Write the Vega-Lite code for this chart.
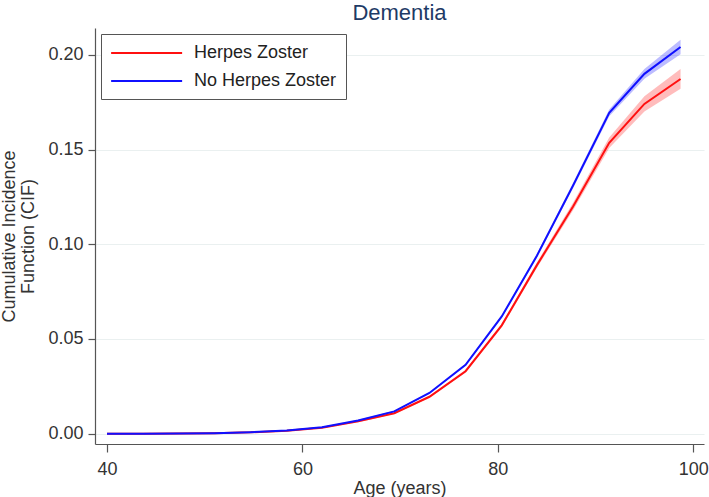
{
  "$schema": "https://vega.github.io/schema/vega-lite/v6.json",
  "autosize": {"type": "none"},
  "width": 609,
  "height": 416,
  "padding": {"left": 95, "top": 28, "right": 5, "bottom": 53},
  "background": "white",
  "title": {
    "text": "Dementia",
    "fontSize": 22,
    "font": "Liberation Sans",
    "fontWeight": "normal",
    "color": "#1e3a66",
    "anchor": "middle",
    "offset": 3
  },
  "config": {
    "view": {"stroke": null},
    "font": "Liberation Sans",
    "axis": {
      "labelFont": "Liberation Sans",
      "titleFont": "Liberation Sans",
      "labelFontSize": 18,
      "titleFontSize": 18,
      "titleFontWeight": "normal",
      "labelColor": "#333333",
      "titleColor": "#333333",
      "domainColor": "#555555",
      "tickColor": "#555555",
      "domainWidth": 1.2,
      "tickWidth": 1.2,
      "gridColor": "#eaf0f0",
      "gridWidth": 1.2
    }
  },
  "data": {
    "values": [
      {"age": 40.0, "group": "Herpes Zoster", "cif": 0.0, "lo": 0.0, "hi": 0.0},
      {"age": 43.7, "group": "Herpes Zoster", "cif": 0.00003, "lo": 0.0, "hi": 0.0001},
      {"age": 47.4, "group": "Herpes Zoster", "cif": 0.0001, "lo": 0.0, "hi": 0.0002},
      {"age": 51.0, "group": "Herpes Zoster", "cif": 0.0003, "lo": 0.0001, "hi": 0.0005},
      {"age": 54.7, "group": "Herpes Zoster", "cif": 0.0007, "lo": 0.0005, "hi": 0.0009},
      {"age": 58.4, "group": "Herpes Zoster", "cif": 0.0016, "lo": 0.0013, "hi": 0.0019},
      {"age": 62.0, "group": "Herpes Zoster", "cif": 0.0032, "lo": 0.0029, "hi": 0.0035},
      {"age": 65.7, "group": "Herpes Zoster", "cif": 0.0065, "lo": 0.0061, "hi": 0.0069},
      {"age": 69.4, "group": "Herpes Zoster", "cif": 0.0108, "lo": 0.0104, "hi": 0.0112},
      {"age": 73.0, "group": "Herpes Zoster", "cif": 0.0195, "lo": 0.019, "hi": 0.02},
      {"age": 76.7, "group": "Herpes Zoster", "cif": 0.033, "lo": 0.0323, "hi": 0.0337},
      {"age": 80.4, "group": "Herpes Zoster", "cif": 0.0572, "lo": 0.0562, "hi": 0.0582},
      {"age": 84.0, "group": "Herpes Zoster", "cif": 0.089, "lo": 0.0876, "hi": 0.0904},
      {"age": 87.7, "group": "Herpes Zoster", "cif": 0.12, "lo": 0.118, "hi": 0.122},
      {"age": 91.4, "group": "Herpes Zoster", "cif": 0.1536, "lo": 0.1508, "hi": 0.1564},
      {"age": 95.0, "group": "Herpes Zoster", "cif": 0.1741, "lo": 0.1701, "hi": 0.1781},
      {"age": 98.7, "group": "Herpes Zoster", "cif": 0.1873, "lo": 0.1821, "hi": 0.1925},
      {"age": 40.0, "group": "No Herpes Zoster", "cif": 0.0, "lo": 0.0, "hi": 0.0},
      {"age": 43.7, "group": "No Herpes Zoster", "cif": 0.00003, "lo": 0.0, "hi": 0.0001},
      {"age": 47.4, "group": "No Herpes Zoster", "cif": 0.0001, "lo": 0.0, "hi": 0.0002},
      {"age": 51.0, "group": "No Herpes Zoster", "cif": 0.0003, "lo": 0.0002, "hi": 0.0004},
      {"age": 54.7, "group": "No Herpes Zoster", "cif": 0.0008, "lo": 0.0007, "hi": 0.0009},
      {"age": 58.4, "group": "No Herpes Zoster", "cif": 0.0017, "lo": 0.0015, "hi": 0.0019},
      {"age": 62.0, "group": "No Herpes Zoster", "cif": 0.0034, "lo": 0.0032, "hi": 0.0036},
      {"age": 65.7, "group": "No Herpes Zoster", "cif": 0.007, "lo": 0.0067, "hi": 0.0073},
      {"age": 69.4, "group": "No Herpes Zoster", "cif": 0.0118, "lo": 0.0115, "hi": 0.0121},
      {"age": 73.0, "group": "No Herpes Zoster", "cif": 0.0215, "lo": 0.0211, "hi": 0.0219},
      {"age": 76.7, "group": "No Herpes Zoster", "cif": 0.0364, "lo": 0.0359, "hi": 0.0369},
      {"age": 80.4, "group": "No Herpes Zoster", "cif": 0.0619, "lo": 0.0612, "hi": 0.0626},
      {"age": 84.0, "group": "No Herpes Zoster", "cif": 0.094, "lo": 0.093, "hi": 0.095},
      {"age": 87.7, "group": "No Herpes Zoster", "cif": 0.131, "lo": 0.1297, "hi": 0.1323},
      {"age": 91.4, "group": "No Herpes Zoster", "cif": 0.1694, "lo": 0.1676, "hi": 0.1712},
      {"age": 95.0, "group": "No Herpes Zoster", "cif": 0.19, "lo": 0.1874, "hi": 0.1926},
      {"age": 98.7, "group": "No Herpes Zoster", "cif": 0.2042, "lo": 0.2004, "hi": 0.208}
    ]
  },
  "encoding": {
    "x": {
      "field": "age",
      "type": "quantitative",
      "scale": {"domain": [38.77, 101.1], "nice": false, "zero": false},
      "axis": {
        "values": [40, 60, 80, 100],
        "format": "d",
        "title": "Age (years)",
        "grid": false,
        "tickSize": 8,
        "labelPadding": 8,
        "titlePadding": 1
      }
    },
    "color": {
      "field": "group",
      "type": "nominal",
      "scale": {"domain": ["Herpes Zoster", "No Herpes Zoster"], "range": ["#ff1010", "#1010ff"]},
      "legend": {
        "title": null,
        "orient": "top-left",
        "offset": 6,
        "direction": "vertical",
        "padding": 9,
        "strokeColor": "#555555",
        "fillColor": "white",
        "symbolType": "M-1,0H7",
        "symbolSize": 315,
        "symbolStrokeWidth": 2,
        "labelFont": "Liberation Sans",
        "labelFontSize": 18,
        "labelColor": "#222222",
        "labelOffset": 64,
        "rowPadding": 9,
        "encode": {
          "symbols": {
            "update": {
              "stroke": {"scale": "color", "field": "value"},
              "fill": {"value": "transparent"},
              "opacity": {"value": 1},
              "strokeWidth": {"value": 2}
            }
          }
        }
      }
    }
  },
  "layer": [
    {
      "mark": {"type": "area", "opacity": 0.28},
      "encoding": {
        "y": {"field": "lo", "type": "quantitative", "scale": {"domain": [-0.00544, 0.2142], "nice": false, "zero": false}},
        "y2": {"field": "hi"}
      }
    },
    {
      "mark": {"type": "line", "strokeWidth": 2},
      "encoding": {
        "y": {
          "field": "cif",
          "type": "quantitative",
          "scale": {"domain": [-0.00544, 0.2142], "nice": false, "zero": false},
          "axis": {
            "values": [0, 0.05, 0.1, 0.15, 0.2],
            "format": ".2f",
            "title": ["Cumulative Incidence", "Function (CIF)"],
            "titleLineHeight": 19,
            "grid": true,
            "tickSize": 7,
            "labelPadding": 5,
            "titlePadding": 10
          }
        }
      }
    }
  ]
}
